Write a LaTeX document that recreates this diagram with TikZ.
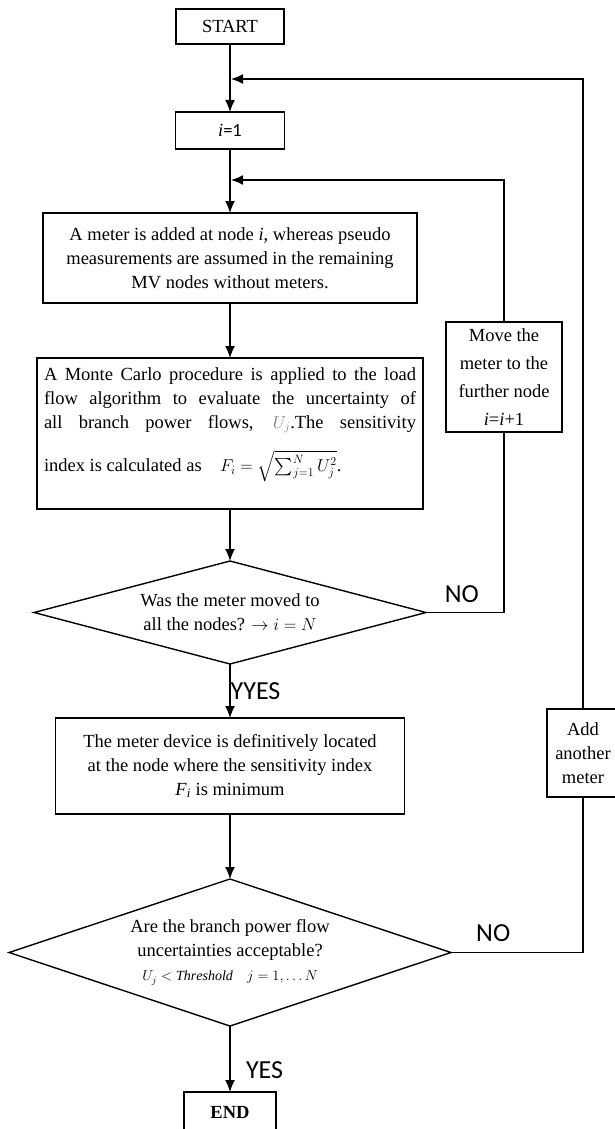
\documentclass[tikz,border=0pt]{standalone}
\usepackage{fontspec}
\setmainfont{Liberation Serif}
\setsansfont{Carlito}
\usepackage{amsmath}
\usetikzlibrary{arrows.meta, positioning, shapes.geometric}
\tikzset{>={Latex[length=12pt,width=10pt]}}
\tikzset{
  block/.style={draw, align=center, inner sep=4pt, outer sep=0pt},
  decision/.style={draw, diamond, align=center, inner sep=0pt, outer sep=0pt},
  answer/.style={font=\sffamily\fontsize{26}{28}\selectfont}
}

\begin{document}
\begin{tikzpicture}[x=1pt, y=-1pt, line width=1.4pt, font=\fontsize{18.5}{24}\selectfont]
\useasboundingbox (0,0) rectangle (614,1129);
% main column
\node[block, minimum width=108pt, minimum height=35pt] (start) at (230,26.5) {START};
\node[block, below=68pt of start, minimum width=109pt, minimum height=37pt] (init) {\textit{i}{\sffamily =1}};
\node[block, below=64pt of init, minimum width=374pt, minimum height=90pt] (meter)
  {A meter is added at node \textit{i}, whereas pseudo\\measurements are assumed in the remaining\\MV nodes without meters.};
\node[block, below=55pt of meter, minimum width=386pt, minimum height=151pt] (montecarlo)
  {\parbox[t][143pt][t]{372pt}{\rule{0pt}{18pt}A Monte Carlo procedure is applied to the load\linebreak
   flow algorithm to evaluate the uncertainty of\linebreak
   all branch power flows, {\color{gray}$U_j$}.The sensitivity\linebreak
   \rule{0pt}{38pt}index is calculated as\quad $F_i = \sqrt{\sum_{j=1}^{N} U_j^2}$.}};
\node[decision, below=52pt of montecarlo, aspect=3.8, minimum width=392pt, minimum height=103pt] (moved)
  {Was the meter moved to\\all the nodes? $\rightarrow i = N$};
\node[block, below=54pt of moved, minimum width=349pt, minimum height=96pt] (locate)
  {The meter device is definitively located\\at the node where the sensitivity index\\\textit{F}\textsubscript{\textit{i}} is minimum};
\node[decision, below=65pt of locate, aspect=3, minimum width=442pt, minimum height=147pt] (acceptable)
  {Are the branch power flow\\uncertainties acceptable?\\{\fontsize{14}{18}\selectfont $U_j < \mathit{Threshold}\quad j = 1, \ldots N$}};
\node[block, below=66pt of acceptable, minimum width=92pt, minimum height=40pt] (finish) {\textbf{END}};
% side boxes
\node[block, minimum width=116pt, minimum height=110pt, font=\fontsize{18.5}{28}\selectfont] (move) at (504,377)
  {Move the\\meter to the\\further node\\\textit{i}=\textit{i}+1};
\node[block, minimum width=72pt, minimum height=88pt] (add) at (583,753) {Add\\another\\meter};
\coordinate (join1) at (231,79);
\coordinate (join2) at (231,180);
% connectors
\draw[->] (start) -- (init);
\draw[->] (init) -- (meter);
\draw[->] (meter) -- (montecarlo);
\draw[->] (montecarlo) -- (moved);
\draw[->] (moved) -- node[right, inner xsep=0pt, answer] {YYES} (locate);
\draw[->] (locate) -- (acceptable);
\draw[->] (acceptable) -- node[right=12pt, pos=0.67, answer] {YES} (finish);
\draw (moved.east) -- node[above=6pt, pos=0.46, answer] {NO} (moved.east -| move.south) -- (move.south);
\draw[->] (move.north) |- (join2);
\draw (acceptable.east) -- node[above=7pt, pos=0.32, answer] {NO} (acceptable.east -| add.south) -- (add.south);
\draw[->] (add.north) |- (join1);
\end{tikzpicture}
\end{document}
